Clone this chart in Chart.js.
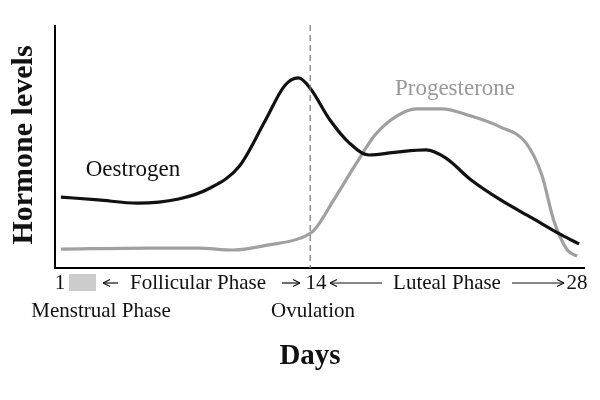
<!DOCTYPE html>
<html><head><script src="https://cdn.jsdelivr.net/npm/chart.js@4"></script>
<style>body{margin:0;background:#fff}#w{width:600px;height:400px}</style></head>
<body><div id="w"><canvas id="c"></canvas></div>
<script>
const oestrogenDays=[1.3,3.2,5.2,7.3,8.8,10.4,11.7,12.7,13.4,14,15,16,17,18.4,19.9,20.9,22.2,23.7,25.3,26.8,27.7];
const oestrogenLevels=[29.2,28,26.7,28.4,32.5,42,60.5,75,78.2,74,61,51.4,46.5,47.7,48.6,45.3,36.2,28,20.6,13.6,9.9];
const progDays=[1.3,5.8,8.3,10.1,11.9,13.5,14.2,15.2,16.3,17.3,18.4,19.4,20.7,22.2,23.7,25,25.8,26.4,27.1,27.6];
const progLevels=[7.8,8.2,8.2,7.4,9.5,12.3,15.6,28,42.4,54.7,62.5,65.5,65.5,62.5,58,51.4,38.3,19.8,7.4,4.9];
const ovulationDay=14;
const F='"Liberation Serif","DejaVu Serif",serif';
function arrow(c,x1,x2,y){c.beginPath();c.moveTo(x1,y);c.lineTo(x2,y);c.stroke();
 const d=x2>x1?-1:1;c.beginPath();c.moveTo(x2,y);c.lineTo(x2+d*7,y-3.5);c.moveTo(x2,y);c.lineTo(x2+d*7,y+3.5);c.stroke();}
const deco={id:'deco',afterDraw(ch){
 const c=ch.ctx,a=ch.chartArea,x=ch.scales.x;c.save();
 c.strokeStyle='#000';c.lineWidth=2;c.beginPath();c.moveTo(a.left,a.top);c.lineTo(a.left,a.bottom);c.lineTo(a.right,a.bottom);c.stroke();
 const dx=x.getPixelForValue(ovulationDay);
 c.strokeStyle='#777';c.lineWidth=1.2;c.setLineDash([6,4]);c.beginPath();c.moveTo(dx,a.top);c.lineTo(dx,a.bottom);c.stroke();c.setLineDash([]);
 c.fillStyle='#ccc';c.fillRect(69,274,27,17);
 c.fillStyle='#111';c.strokeStyle='#111';c.lineWidth=1.2;c.font='21px '+F;c.textBaseline='middle';c.textAlign='center';
 const ty=283;
 c.fillText('1',60,ty);
 arrow(c,118,103,ty);c.fillText('Follicular Phase',198,ty);arrow(c,282,300,ty);
 c.fillText('14',316,ty);
 arrow(c,382,330,ty);c.fillText('Luteal Phase',447,ty);arrow(c,512,564,ty);
 c.fillText('28',577,ty);
 c.font='21px '+F;
 c.fillText('Menstrual Phase',101,311);c.fillText('Ovulation',313,311);
 c.font='bold 29px '+F;c.fillText('Days',310,357);
 c.save();c.translate(24,145);c.rotate(-Math.PI/2);c.font='bold 30px '+F;c.fillText('Hormone levels',0,0);c.restore();
 c.font='23px '+F;c.fillStyle='#111';c.fillText('Oestrogen',133,170);
 c.fillStyle='#999';c.fillText('Progesterone',455,89);
 c.restore();}};
new Chart(document.getElementById('c'),{type:'line',
 data:{datasets:[
  {data:oestrogenDays.map((d,i)=>({x:d,y:oestrogenLevels[i]})),borderColor:'#111',borderWidth:3.2,pointRadius:0,cubicInterpolationMode:'monotone'},
  {data:progDays.map((d,i)=>({x:d,y:progLevels[i]})),borderColor:'#a0a0a0',borderWidth:3.2,pointRadius:0,cubicInterpolationMode:'monotone'}]},
 options:{responsive:true,maintainAspectRatio:false,animation:false,
  layout:{padding:{left:55,right:15,top:25,bottom:132}},
  plugins:{legend:{display:false},tooltip:{enabled:false}},
  scales:{x:{type:'linear',min:1,max:28,display:false},y:{min:0,max:100,display:false}}},
 plugins:[deco]});
</script></body></html>
